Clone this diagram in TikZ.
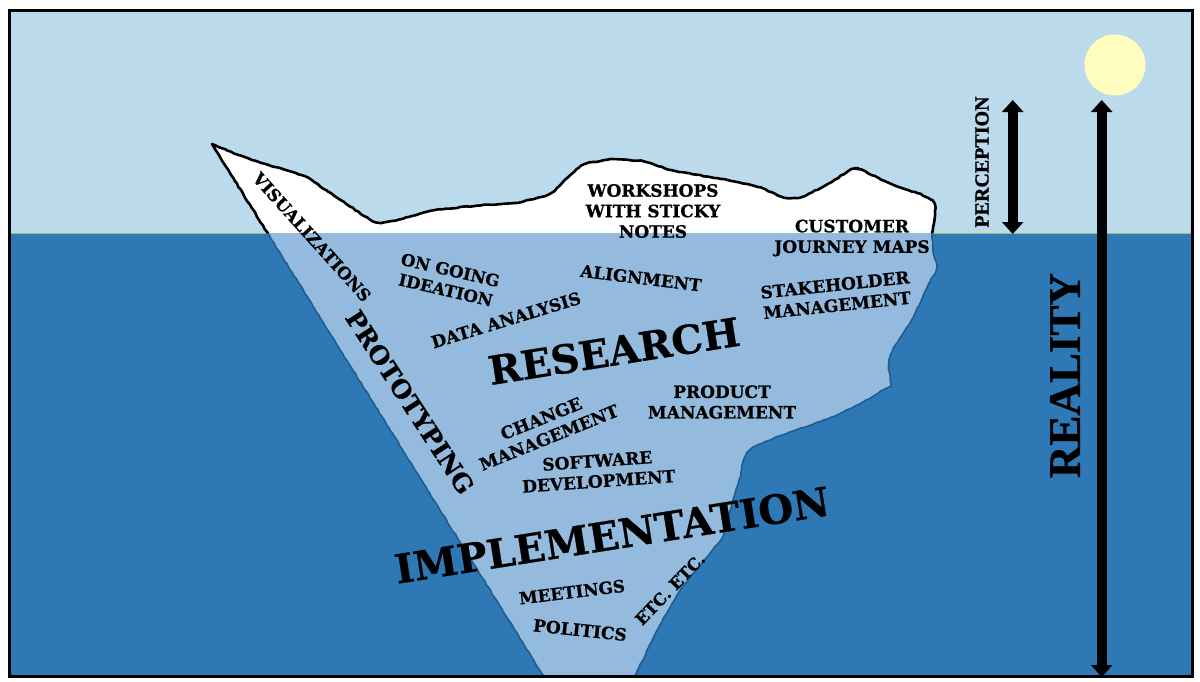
\documentclass[tikz,border=0pt]{standalone}
\usepackage{fontspec}
\setmainfont{DejaVu Serif}[BoldFeatures={FakeBold=0.7}]
\newfontfamily\timesb{Liberation Serif}[BoldFeatures={FakeBold=1}]
\usetikzlibrary{arrows.meta,decorations.pathmorphing}
\definecolor{sky}{HTML}{BBDBED}
\definecolor{water}{HTML}{2D78B5}
\definecolor{icedeep}{HTML}{94BBDD}
\definecolor{edgedeep}{HTML}{1E5C92}
\definecolor{sunc}{HTML}{FFFDBE}
\definecolor{shore}{HTML}{9CC66A}
\tikzset{
  lab/.style={font=\bfseries\fontsize{#1}{20.5}\selectfont,align=center,text=black,inner sep=0pt},
  tlab/.style={font=\timesb\bfseries\fontsize{#1}{20.5}\selectfont,align=center,text=black,inner sep=0pt},
  bigarrow/.style={line width=10pt,{Triangle[width=21pt,length=12pt]}-{Triangle[width=21pt,length=12pt]}},
  rough/.style={decorate,decoration={random steps,segment length=3.5pt,amplitude=0.45pt}},
}
\def\iceoutline{(212,144) [rounded corners=6pt] -- (233,153) -- (267,165) -- (290,171) -- (307,177) -- (333,195) -- (375,223) -- (390,222) -- (433,210) -- (483,205) -- (517,203) -- (550,195) -- (567,178) -- (583,164) -- (610,159) -- (643,161) -- (670,170) -- (727,180) -- (760,187) -- (783,198) -- (800,198) -- (827,185) -- (853,168) -- (860,169) -- (893,185) -- (923,195) -- (935,202) -- (935,217) -- (932,233) -- (933,253) -- (938,267) -- (927,287) -- (912,320) -- (892,350) -- (888,363) [rounded corners=1.5pt] -- (891,385) [rounded corners=6pt] -- (867,400) -- (833,417) -- (787,433) -- (750,448) -- (743,460) -- (740,478) -- (735,493) -- (723,537) -- (680,590) -- (657,630) -- (633,680) [sharp corners] -- (546,680) -- cycle}
\begin{document}
\begin{tikzpicture}[x=1pt,y=-1pt]
\useasboundingbox (0,0) rectangle (1200,681);
\fill[white] (0,0) rectangle (1200,681);
\fill[sky] (9,10) rectangle (1192,233);
\fill[water] (9,233) rectangle (1192,676);
\draw[shore,line width=1pt] (9,233) -- (1192,233);
% ice above and below the waterline
\begin{scope}
  \clip (0,0) rectangle (1200,233);
  \pgfmathsetseed{7}
  \filldraw[fill=white,draw=black,line width=2.6pt,line join=round,rough] \iceoutline;
\end{scope}
\begin{scope}
  \clip (0,233) rectangle (1200,676);
  \pgfmathsetseed{7}
  \filldraw[fill=icedeep,draw=edgedeep,line width=1.6pt,line join=round,rough] \iceoutline;
\end{scope}
\fill[sunc] (1115,65) circle (30.5);
\draw[black,line width=3pt] (9,10) rectangle (1192,676);
% labels
\node[lab=16.8,rotate=-48] (vis) at (312,237) {VISUALIZATIONS};
\node[lab=25,rotate=-57] (proto) at (410,402) {PROTOTYPING};
\node[lab=16.5,rotate=-13] (ongoing) at (448,280) {ON GOING\\IDEATION};
\node[lab=17,rotate=17] (data) at (506,320) {DATA ANALYSIS};
\node[lab=16.8,rotate=-7] (align) at (641,278) {ALIGNMENT};
\node[lab=17] (work) at (653,211) {WORKSHOPS\\WITH STICKY\\NOTES};
\node[lab=17] (cust) at (852,238) {CUSTOMER\\JOURNEY MAPS};
\node[lab=17,rotate=6] (stake) at (836,295) {STAKEHOLDER\\MANAGEMENT};
\node[lab=39.5,rotate=9] (research) at (614,351) {RESEARCH};
\node[lab=17,rotate=22] (change) at (545,428) {CHANGE\\MANAGEMENT};
\node[lab=17] (product) at (722,402) {PRODUCT\\MANAGEMENT};
\node[lab=17,rotate=4] (soft) at (598,471) {SOFTWARE\\DEVELOPMENT};
\node[lab=40,rotate=9] (impl) at (612,535) {IMPLEMENTATION};
\node[lab=16.8,rotate=7] (meet) at (572,592) {MEETINGS};
\node[lab=17,rotate=-6] (pol) at (580,630) {POLITICS};
\node[lab=16.4,rotate=46] (etc) at (670,589) {ETC. ETC.};
\node[tlab=20,rotate=90] (perc) at (982,162) {PERCEPTION};
\node[tlab=45,rotate=90] (real) at (1065,375.5) {REALITY};
% arrows
\coordinate (pt) at (1012.7,100);
\coordinate (pb) at (1012.7,234);
\coordinate (rt) at (1101.7,100);
\coordinate (rb) at (1101.7,677);
\draw[bigarrow] (pt) -- (pb);
\draw[bigarrow] (rt) -- (rb);
\end{tikzpicture}
\end{document}
